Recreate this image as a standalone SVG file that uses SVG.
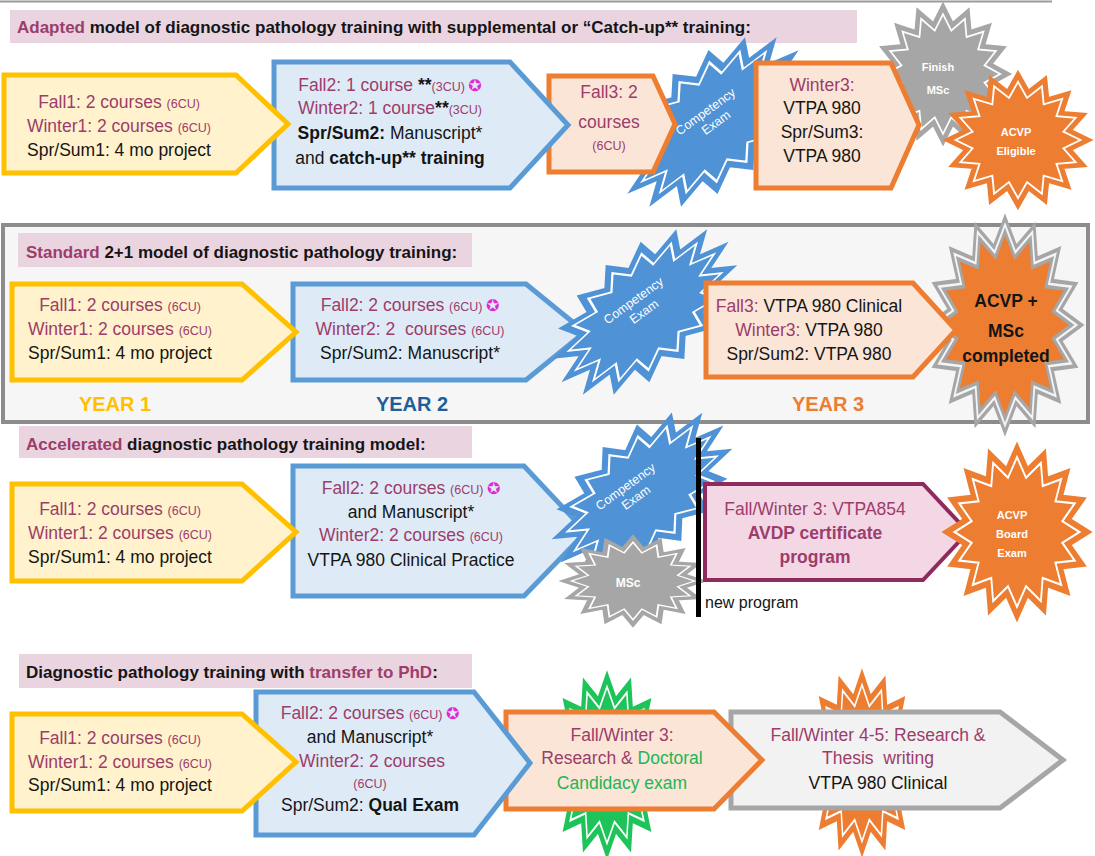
<svg xmlns="http://www.w3.org/2000/svg" width="1095" height="856" viewBox="0 0 1095 856">
<style>
text{font-family:"Liberation Sans",Arial,sans-serif;font-size:17.5px;fill:#151515;text-anchor:middle}
.hd{font-weight:bold;font-size:17px;text-anchor:start}
.m{fill:#9c3d6b}
.cu{font-size:12.5px}
.b{font-weight:bold}
.g{fill:#22b557}
.sym{font-family:"DejaVu Sans",sans-serif;fill:#e02ad0;font-size:16px}
.hbox{fill:#ead4e0}
.py{fill:#fff2cc;stroke:#ffc000;stroke-width:5}
.pb{fill:#deebf7;stroke:#5b9bd5;stroke-width:5}
.po{fill:#fbe5d6;stroke:#ed7d31;stroke-width:5}
.pg{fill:#f2f2f2;stroke:#a6a6a6;stroke-width:5}
.pm{fill:#f3d7e5;stroke:#8e2a5e;stroke-width:4}
.sb{fill:#4f92d6;stroke:#4f92d6;stroke-width:3;vector-effect:non-scaling-stroke}
.sgr{fill:#a6a6a6;stroke:#a6a6a6;stroke-width:3;vector-effect:non-scaling-stroke}
.sor{fill:#ed7d31;stroke:#ed7d31;stroke-width:3;vector-effect:non-scaling-stroke}
.sgn{fill:#1ec45a;stroke:#1ec45a;stroke-width:3;vector-effect:non-scaling-stroke}
.in{fill:none;stroke:#fff;stroke-width:1.5;vector-effect:non-scaling-stroke}
.bo{fill:#ed7d31;stroke:#a6a6a6;stroke-width:3.5;vector-effect:non-scaling-stroke}
.bw{fill:none;stroke:#f4f4f4;stroke-width:2;vector-effect:non-scaling-stroke}
.bi{fill:none;stroke:#a6a6a6;stroke-width:2;vector-effect:non-scaling-stroke}
.st{fill:#fff;font-weight:bold;font-size:11px}
.sc{fill:#fff;font-size:12.5px}
.yr{font-weight:bold;font-size:20px}
</style>
<defs>
<path id="star" d="M50,0 L36.29,7.22 L46.19,19.13 L30.77,20.56 L35.36,35.36 L20.56,30.77 L19.13,46.19 L7.22,36.29 L0,50 L-7.22,36.29 L-19.13,46.19 L-20.56,30.77 L-35.36,35.36 L-30.77,20.56 L-46.19,19.13 L-36.29,7.22 L-50,0 L-36.29,-7.22 L-46.19,-19.13 L-30.77,-20.56 L-35.36,-35.36 L-20.56,-30.77 L-19.13,-46.19 L-7.22,-36.29 L0,-50 L7.22,-36.29 L19.13,-46.19 L20.56,-30.77 L35.36,-35.36 L30.77,-20.56 L46.19,-19.13 L36.29,-7.22 Z"/>
</defs>
<rect width="1095" height="856" fill="#fff"/>
<line x1="0" y1="1.5" x2="1052" y2="1.5" stroke="#9a9a9a" stroke-width="2"/>

<!-- Section 1 -->
<g id="s1-header">
<rect class="hbox" x="10" y="10" width="847" height="33"/>
<text class="hd" x="17" y="33"><tspan class="m">Adapted</tspan> model of diagnostic pathology training with supplemental or “Catch-up** training:</text>
</g>
<g id="s1-competency">
<g transform="translate(713,122) rotate(-40) scale(2.1,1.18)"><use href="#star" class="sb"/><use href="#star" class="in" transform="scale(0.88)"/></g>
<text class="sc" transform="translate(708,115) rotate(-36)"><tspan x="0" y="0">Competency</tspan><tspan x="2" y="15">Exam</tspan></text>
</g>
<g id="s1-finish-msc">
<g transform="translate(943,74) scale(1.3,1.36)"><use href="#star" class="sgr"/><use href="#star" class="in" transform="scale(0.88)"/></g>
<text class="st" x="938" y="71">Finish</text><text class="st" x="938" y="94">MSc</text>
</g>
<g id="s1-winter3">
<polygon class="po" points="756,63 891,63 919,125 891,188 756,188"/>
<text x="822" y="91" class="m">Winter3:</text>
<text x="822" y="114">VTPA 980</text>
<text x="822" y="138">Spr/Sum3:</text>
<text x="822" y="162">VTPA 980</text>
</g>
<g id="s1-fall3">
<polygon class="po" points="549,76 653,76 675,124 653,172 549,172"/>
<text x="609" y="98" class="m">Fall3: 2</text>
<text x="609" y="128" class="m">courses</text>
<text x="609" y="150" class="m cu">(6CU)</text>
</g>
<g id="s1-year2">
<polygon class="pb" points="274,62 510,62 568,125 510,188 274,188"/>
<text x="390" y="91"><tspan class="m">Fall2: 1 course </tspan><tspan class="b">**</tspan><tspan class="m cu">(3CU) </tspan><tspan class="sym">✪</tspan></text>
<text x="390" y="114"><tspan class="m">Winter2: 1 course</tspan><tspan class="b">**</tspan><tspan class="m cu">(3CU)</tspan></text>
<text x="390" y="139"><tspan class="b">Spr/Sum2:</tspan> Manuscript*</text>
<text x="390" y="164">and <tspan class="b">catch-up** training</tspan></text>
</g>
<g id="s1-year1">
<polygon class="py" points="4,75 236,75 288,124 236,173 4,173"/>
<text x="119" y="108" class="m">Fall1: 2 courses <tspan class="cu">(6CU)</tspan></text>
<text x="119" y="132" class="m">Winter1: 2 courses <tspan class="cu">(6CU)</tspan></text>
<text x="119" y="156">Spr/Sum1: 4 mo project</text>
</g>
<g id="s1-acvp">
<g transform="translate(1018,140) scale(1.42,1.32)"><use href="#star" class="sor"/><use href="#star" class="in" transform="scale(0.88)"/></g>
<text class="st" x="1016" y="136">ACVP</text><text class="st" x="1016" y="155">Eligible</text>
</g>

<!-- Section 2 -->
<g id="s2-frame">
<rect x="3" y="225" width="1085" height="197" fill="#f6f6f6" stroke="#8c8c8c" stroke-width="4"/>
<rect class="hbox" x="18" y="233" width="454" height="34"/>
<text class="hd" x="26" y="258"><tspan class="m">Standard</tspan> 2+1 model of diagnostic pathology training:</text>
</g>
<g id="s2-complete">
<g transform="translate(1005,325) scale(1.48,2.08)"><use href="#star" class="bo"/><use href="#star" class="bw" transform="scale(0.95)"/><use href="#star" class="bi" transform="scale(0.9)"/></g>
<text class="b" x="1006" y="307">ACVP +</text>
<text class="b" x="1006" y="337">MSc</text>
<text class="b" x="1006" y="362">completed</text>
</g>
<g id="s2-year2">
<polygon class="pb" points="293,284 526,284 585,332 526,380 293,380"/>
<text x="410" y="311"><tspan class="m">Fall2: 2 courses </tspan><tspan class="m cu">(6CU) </tspan><tspan class="sym">✪</tspan></text>
<text x="410" y="335" class="m" xml:space="preserve">Winter2: 2  courses <tspan class="cu">(6CU)</tspan></text>
<text x="410" y="359">Spr/Sum2: Manuscript*</text>
</g>
<g id="s2-competency">
<g transform="translate(645,312) rotate(-40) scale(2.05,1.15)"><use href="#star" class="sb"/><use href="#star" class="in" transform="scale(0.88)"/></g>
<text class="sc" transform="translate(636,304) rotate(-36)"><tspan x="0" y="0">Competency</tspan><tspan x="2" y="15">Exam</tspan></text>
</g>
<g id="s2-year3">
<polygon class="po" points="706,283 913,283 956,330 913,377 706,377"/>
<text x="809" y="312"><tspan class="m">Fall3:</tspan> VTPA 980 Clinical</text>
<text x="809" y="336"><tspan class="m">Winter3:</tspan> VTPA 980</text>
<text x="809" y="360">Spr/Sum2: VTPA 980</text>
</g>
<g id="s2-year1">
<polygon class="py" points="12,284 242,284 296,332 242,380 12,380"/>
<text x="120" y="311" class="m">Fall1: 2 courses <tspan class="cu">(6CU)</tspan></text>
<text x="120" y="335" class="m">Winter1: 2 courses <tspan class="cu">(6CU)</tspan></text>
<text x="120" y="359">Spr/Sum1: 4 mo project</text>
</g>
<g id="s2-years">
<text class="yr" x="115" y="411" style="fill:#ffc000">YEAR 1</text>
<text class="yr" x="412" y="411" style="fill:#1f5f99">YEAR 2</text>
<text class="yr" x="828" y="411" style="fill:#ed7d31">YEAR 3</text>
</g>

<!-- Section 3 -->
<g id="s3-header">
<rect class="hbox" x="19" y="426" width="453" height="32"/>
<text class="hd" x="26" y="450"><tspan class="m">Accelerated</tspan> diagnostic pathology training model:</text>
</g>
<g id="s3-year2">
<polygon class="pb" points="293,466 524,466 586,532 524,596 293,596"/>
<text x="411" y="494"><tspan class="m">Fall2: 2 courses </tspan><tspan class="m cu">(6CU) </tspan><tspan class="sym">✪</tspan></text>
<text x="411" y="518">and Manuscript*</text>
<text x="411" y="541" class="m">Winter2: 2 courses <tspan class="cu">(6CU)</tspan></text>
<text x="411" y="566">VTPA 980 Clinical Practice</text>
</g>
<g id="s3-competency">
<g transform="translate(642,494) rotate(-40) scale(2.0,1.15)"><use href="#star" class="sb"/><use href="#star" class="in" transform="scale(0.88)"/></g>
<text class="sc" transform="translate(628,490) rotate(-36)"><tspan x="0" y="0">Competency</tspan><tspan x="2" y="15">Exam</tspan></text>
</g>
<g id="s3-msc">
<g transform="translate(633,581) scale(1.4,0.88)"><use href="#star" class="sgr"/><use href="#star" class="in" transform="scale(0.88)"/></g>
<text class="st" x="628" y="587" style="font-size:12px">MSc</text>
</g>
<g id="s3-divider">
<rect x="696" y="438" width="5" height="179" fill="#000"/>
<text x="705" y="608" style="text-anchor:start;font-size:16px">new program</text>
</g>
<g id="s3-avdp">
<polygon class="pm" points="705,484 923,484 968,532 923,580 705,580"/>
<text x="815" y="515" class="m">Fall/Winter 3: VTPA854</text>
<text x="815" y="539" class="m b">AVDP certificate</text>
<text x="815" y="563" class="m b">program</text>
</g>
<g id="s3-year1">
<polygon class="py" points="12,484 242,484 296,532 242,581 12,581"/>
<text x="120" y="515" class="m">Fall1: 2 courses <tspan class="cu">(6CU)</tspan></text>
<text x="120" y="539" class="m">Winter1: 2 courses <tspan class="cu">(6CU)</tspan></text>
<text x="120" y="563">Spr/Sum1: 4 mo project</text>
</g>
<g id="s3-board">
<g transform="translate(1017,532) scale(1.42,1.7)"><use href="#star" class="sor"/><use href="#star" class="in" transform="scale(0.88)"/></g>
<text class="st" x="1012" y="519">ACVP</text>
<text class="st" x="1012" y="538">Board</text>
<text class="st" x="1012" y="557">Exam</text>
</g>

<!-- Section 4 -->
<g id="s4-header">
<rect class="hbox" x="19" y="654" width="453" height="34"/>
<text class="hd" x="26" y="678">Diagnostic pathology training with <tspan class="m">transfer to PhD</tspan>:</text>
</g>
<g id="s4-stars">
<g transform="translate(607,765) scale(1.18,1.78)"><use href="#star" class="sgn"/><use href="#star" class="in" transform="scale(0.88)"/></g>
<g transform="translate(862,763) scale(1.15,1.78)"><use href="#star" class="sor"/><use href="#star" class="in" transform="scale(0.88)"/></g>
</g>
<g id="s4-year45">
<polygon class="pg" points="731,712 1000,712 1063,760 1000,808 731,808"/>
<text x="878" y="741" class="m">Fall/Winter 4-5: Research &amp;</text>
<text x="878" y="764" class="m" xml:space="preserve">Thesis  writing</text>
<text x="878" y="789">VTPA 980 Clinical</text>
</g>
<g id="s4-year3">
<polygon class="po" points="506,712 714,712 762,760 714,809 506,809"/>
<text x="622" y="741" class="m">Fall/Winter 3:</text>
<text x="622" y="764"><tspan class="m">Research &amp; </tspan><tspan class="g">Doctoral</tspan></text>
<text x="622" y="789" class="g">Candidacy exam</text>
</g>
<g id="s4-year2">
<polygon class="pb" points="256,692 474,692 530,763 474,835 256,835"/>
<text x="370" y="719"><tspan class="m">Fall2: 2 courses </tspan><tspan class="m cu">(6CU) </tspan><tspan class="sym">✪</tspan></text>
<text x="370" y="743">and Manuscript*</text>
<text x="372" y="767" class="m">Winter2: 2 courses</text>
<text x="370" y="788" class="m cu">(6CU)</text>
<text x="370" y="811">Spr/Sum2: <tspan class="b">Qual Exam</tspan></text>
</g>
<g id="s4-year1">
<polygon class="py" points="12,714 242,714 296,762 242,811 12,811"/>
<text x="120" y="744" class="m">Fall1: 2 courses <tspan class="cu">(6CU)</tspan></text>
<text x="120" y="768" class="m">Winter1: 2 courses <tspan class="cu">(6CU)</tspan></text>
<text x="120" y="791">Spr/Sum1: 4 mo project</text>
</g>
<g id="connectors"></g>
</svg>
